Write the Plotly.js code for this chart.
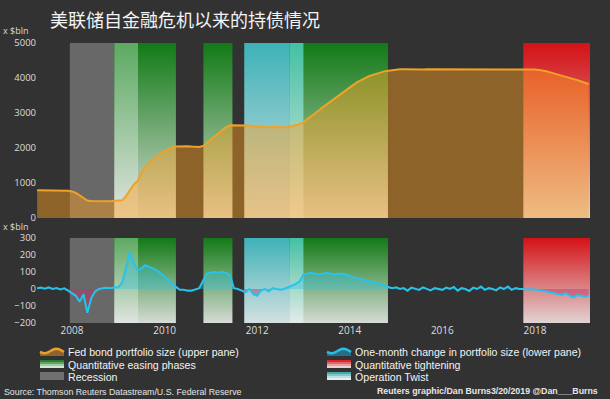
<!DOCTYPE html>
<html><head><meta charset="utf-8">
<script src="https://cdn.plot.ly/plotly-3.0.1.min.js"></script>
<style>html,body{margin:0;padding:0;background:#323232;}#chart{width:610px;height:399px;}</style>
</head><body><div id="chart"></div>
<script>
// ---------- data ----------
const firstMonth = [2007, 4];           // monthly series start: April 2007
// Fed bond portfolio size, $bln (upper pane), monthly Apr 2007 .. Mar 2019
const portfolio = [
  790, 790, 795, 790, 785, 790, 790, 785, 780,                          // 2007
  760, 720, 650, 560, 500, 485, 480, 480, 485, 485, 480, 490,            // 2008
  495, 505, 620, 800, 950, 1050, 1300, 1450, 1570, 1680, 1750, 1850,     // 2009
  1910, 1970, 2020, 2040, 2050, 2050, 2050, 2040, 2030, 2030, 2060, 2150, // 2010
  2240, 2330, 2430, 2520, 2600, 2650, 2650, 2650, 2650, 2640, 2640, 2620, // 2011
  2610, 2610, 2600, 2590, 2600, 2590, 2590, 2590, 2600, 2620, 2650, 2680, // 2012
  2740, 2820, 2900, 2990, 3070, 3160, 3240, 3330, 3410, 3500, 3580, 3670, // 2013
  3740, 3810, 3880, 3940, 4000, 4050, 4090, 4130, 4160, 4190, 4210, 4230, // 2014
  4240, 4250, 4250, 4245, 4250, 4255, 4250, 4245, 4250, 4250, 4255, 4250, // 2015
  4245, 4250, 4255, 4250, 4245, 4250, 4255, 4250, 4250, 4245, 4250, 4255, // 2016
  4250, 4255, 4250, 4245, 4250, 4255, 4250, 4250, 4250, 4255, 4250, 4245, // 2017
  4240, 4230, 4215, 4190, 4160, 4130, 4100, 4075, 4050, 4010, 3975, 3940, // 2018
  3900, 3865, 3830                                                        // 2019
];
// One-month change in portfolio size, $bln (lower pane)
const monthlyChange = [
  5, 8, 2, 10, 0, 6, -3, 4, -10,                                         // 2007
  -25, -40, -75, -30, -140, -55, -15, 0, 5, 8, 5, 10,                    // 2008
  10, 40, 120, 215, 160, 110, 120, 140, 130, 120, 110, 90,               // 2009
  70, 55, 30, 10, -5, -5, -10, -10, 0, 5, 50, 90,                        // 2010
  95, 100, 95, 100, 95, 80, 5, 0, -10, -20, 0, -30,                      // 2011
  -40, -10, 0, -15, 5, 0, -5, 0, 10, 20, 30, 45,                         // 2012
  85, 90, 95, 90, 85, 90, 95, 90, 85, 90, 90, 85,                        // 2013
  75, 70, 65, 60, 55, 45, 40, 35, 30, 20, 10, 5,                         // 2014
  10, 0, 5, -10, 8, 0, -5, 10, 2, -8, 5, 0,                              // 2015
  -5, 8, 0, 12, -10, 5, 0, -12, 8, 0, 15, -5,                            // 2016
  5, 0, -8, 10, 0, 15, -5, 5, 0, 0, -5, 0,                               // 2017
  -5, -8, -10, -15, -20, -25, -30, -35, -25, -40, -50, -35,              // 2018
  -40, -45, -40                                                          // 2019
];
// shaded periods
const recessionPeriods = [['2007-12-15', '2009-06-05']];
const qePeriods = [['2008-12-01', '2010-03-31'], ['2010-11-03', '2011-06-20'], ['2012-09-13', '2014-10-29']];
const twistPeriods = [['2011-09-21', '2012-12-31']];
const qtPeriods = [['2017-10-01', '2019-03-11']];
// axes
const xRange = ['2007-03-31', '2019-03-11'];
const xTickYears = ['2008', '2010', '2012', '2014', '2016', '2018'];
const topRange = [0, 5000];
const topTicks = [0, 1000, 2000, 3000, 4000, 5000];
const bottomRange = [-200, 300];
const bottomTicks = [-200, -100, 0, 100, 200, 300];
// texts
const titleText = '美联储自金融危机以来的持债情况';
const unitText = 'x $bln';
const legendLeft = ['Fed bond portfolio size (upper pane)', 'Quantitative easing phases', 'Recession'];
const legendRight = ['One-month change in portfolio size (lower pane)', 'Quantitative tightening', 'Operation Twist'];
const sourceText = 'Source: Thomson Reuters Datastream/U.S. Federal Reserve';
const creditText = 'Reuters graphic/Dan Burns3/20/2019 @Dan___Burns';

// ---------- build ----------
const months = portfolio.map((_, i) => {
  const m0 = firstMonth[1] - 1 + i;
  const y = firstMonth[0] + Math.floor(m0 / 12);
  const m = (m0 % 12) + 1;
  return y + '-' + String(m).padStart(2, '0') + '-01';
});

const COL = {
  gray: 'rgb(104,104,104)',
  green: ['rgb(214,219,214)', 'rgb(18,122,22)'],
  greenRec: ['rgb(224,228,224)', 'rgb(92,170,98)'],
  teal: ['rgb(212,224,224)', 'rgb(62,178,184)'],
  greenTwist: ['rgb(228,236,232)', 'rgb(68,192,162)'],
  red: ['rgb(224,212,212)', 'rgb(212,18,22)']
};

function overlap(a, b) {
  const s = a[0] > b[0] ? a[0] : b[0];
  const e = a[1] < b[1] ? a[1] : b[1];
  return s < e ? [s, e] : null;
}

const traces = [];
function band(p, range, yaxis, color) {
  const t = {
    type: 'scatter', mode: 'lines', xaxis: 'x', yaxis: yaxis,
    x: [p[0], p[1], p[1], p[0], p[0]],
    y: [range[0], range[0], range[1], range[1], range[0]],
    fill: 'toself', line: {width: 0}, hoverinfo: 'skip', showlegend: false
  };
  if (Array.isArray(color)) {
    t.fillcolor = color[1];
    t.fillgradient = {type: 'vertical', colorscale: [[0, color[0]], [1, color[1]]]};
  } else {
    t.fillcolor = color;
  }
  traces.push(t);
}
[['y', topRange], ['y2', bottomRange]].forEach(([ax, rng]) => {
  recessionPeriods.forEach(p => band(p, rng, ax, COL.gray));
  twistPeriods.forEach(p => band(p, rng, ax, COL.teal));
  qtPeriods.forEach(p => band(p, rng, ax, COL.red));
  qePeriods.forEach(p => {
    band(p, rng, ax, COL.green);
    recessionPeriods.forEach(r => { const o = overlap(p, r); if (o) band(o, rng, ax, COL.greenRec); });
    twistPeriods.forEach(r => { const o = overlap(p, r); if (o) band(o, rng, ax, COL.greenTwist); });
  });
});

// upper pane: portfolio size
traces.push({
  type: 'scatter', mode: 'lines', x: months, y: portfolio, xaxis: 'x', yaxis: 'y',
  fill: 'tozeroy', fillcolor: 'rgba(255,160,30,0.45)',
  line: {color: 'rgb(240,162,40)', width: 2}, hoverinfo: 'skip', showlegend: false
});
// lower pane: one-month change
traces.push({
  type: 'scatter', mode: 'lines', x: months, y: monthlyChange.map(v => Math.max(v, 0)), xaxis: 'x', yaxis: 'y2',
  fill: 'tozeroy', fillcolor: 'rgba(40,195,235,0.35)', line: {width: 0}, hoverinfo: 'skip', showlegend: false
});
traces.push({
  type: 'scatter', mode: 'lines', x: months, y: monthlyChange.map(v => Math.min(v, 0)), xaxis: 'x', yaxis: 'y2',
  fill: 'tozeroy', fillcolor: 'rgba(190,50,110,0.45)', line: {width: 0}, hoverinfo: 'skip', showlegend: false
});
traces.push({
  type: 'scatter', mode: 'lines', x: months, y: monthlyChange, xaxis: 'x', yaxis: 'y2',
  line: {color: 'rgb(40,195,235)', width: 2}, hoverinfo: 'skip', showlegend: false
});

// ---------- layout helpers (pixel -> paper) ----------
const L = 37, R = 590, T = 43, B = 323;
const px = x => (x - L) / (R - L);
const py = y => (B - y) / (B - T);
const pathOf = pts => 'M' + pts.map(p => px(p[0]) + ',' + py(p[1])).join('L') + (pts.closed ? 'Z' : '');

const shapes = [];
function rectSwatch(x0, y0, x1, y1, cols) {
  const h = (y1 - y0) / cols.length;
  cols.forEach((c, i) => shapes.push({
    type: 'rect', xref: 'paper', yref: 'paper',
    x0: px(x0), x1: px(x1), y0: py(y0 + h * (i + 1)), y1: py(y0 + h * i),
    fillcolor: c, line: {width: 0}
  }));
}
function waveSwatch(x0, yc, lineCol, fillCol) {
  const pts = [];
  for (let i = 0; i <= 12; i++) {
    const x = x0 + i * 2;
    pts.push([x, yc + 2.2 * Math.sin(i / 12 * Math.PI * 2 + 0.4)]);
  }
  const poly = pts.concat([[x0 + 24, yc + 5], [x0, yc + 5]]);
  poly.closed = true;
  shapes.push({type: 'path', xref: 'paper', yref: 'paper', path: pathOf(poly), fillcolor: fillCol, line: {width: 0}});
  shapes.push({type: 'path', xref: 'paper', yref: 'paper', path: pathOf(pts), line: {color: lineCol, width: 2.5}});
}
waveSwatch(40, 351, 'rgb(236,160,40)', 'rgb(140,100,45)');
rectSwatch(40, 360, 64, 368, ['rgb(40,130,45)', 'rgb(95,165,100)', 'rgb(160,205,165)', 'rgb(210,230,210)']);
rectSwatch(40, 372, 64, 380, ['rgb(112,112,112)']);
waveSwatch(327, 351, 'rgb(40,190,230)', 'rgb(40,110,130)');
rectSwatch(327, 360, 351, 368, ['rgb(215,40,45)', 'rgb(230,100,105)', 'rgb(235,160,160)', 'rgb(235,210,210)']);
rectSwatch(327, 372, 351, 380, ['rgb(70,170,170)', 'rgb(130,200,200)', 'rgb(185,225,225)', 'rgb(225,240,240)']);

const txtFont = {family: 'Liberation Sans, Arial, sans-serif', size: 10.6, color: '#f2f2f2'};
const smallFont = {family: 'Liberation Sans, Arial, sans-serif', size: 8.8, color: '#e6e6e6'};
const annotations = [];
function label(text, x, y, opts) {
  annotations.push(Object.assign({
    text: text, xref: 'paper', yref: 'paper', x: px(x), y: py(y),
    xanchor: 'left', yanchor: 'middle', showarrow: false, font: txtFont
  }, opts || {}));
}
legendLeft.forEach((t, i) => label(t, 66, 352 + i * 12.5));
legendRight.forEach((t, i) => label(t, 353, 352 + i * 12.5));
label(sourceText, 2, 392, {font: smallFont});
label('<b>' + creditText + '</b>', 600, 391, {xanchor: 'right', font: smallFont});
const unitFont = {family: 'Open Sans, sans-serif', size: 9, color: '#dcdcdc'};
label(unitText, 1, 31, {font: unitFont});
label(unitText, 1, 226, {font: unitFont});

const tickFont = {family: 'Open Sans, sans-serif', size: 9.5, color: '#dedede'};
const layout = {
  width: 610, height: 399,
  margin: {l: L, r: 610 - R, t: T, b: 399 - B, pad: 0},
  paper_bgcolor: '#323232', plot_bgcolor: '#323232',
  showlegend: false,
  title: {
    text: titleText, x: 50 / 610, xanchor: 'left', xref: 'container',
    y: 1 - 21 / 399, yanchor: 'middle', yref: 'container',
    font: {family: 'Noto Sans CJK SC, sans-serif', size: 18, color: '#f4f4f4'}
  },
  xaxis: {
    type: 'date', range: xRange, anchor: 'y2',
    tickvals: xTickYears.map(y => y + '-01-01'), ticktext: xTickYears,
    showgrid: false, zeroline: false, showline: false, ticks: '',
    tickfont: Object.assign({}, tickFont, {size: 10})
  },
  yaxis: {
    domain: [py(218), 1], range: topRange, tickvals: topTicks, anchor: 'x',
    showgrid: false, zeroline: false, showline: false, ticks: '', tickfont: tickFont
  },
  yaxis2: {
    domain: [0, py(238)], range: bottomRange, tickvals: bottomTicks, anchor: 'x',
    showgrid: false, zeroline: false, showline: false, ticks: '', tickfont: tickFont
  },
  shapes: shapes,
  annotations: annotations
};
Plotly.newPlot('chart', traces, layout, {staticPlot: true, displayModeBar: false});
</script></body></html>
